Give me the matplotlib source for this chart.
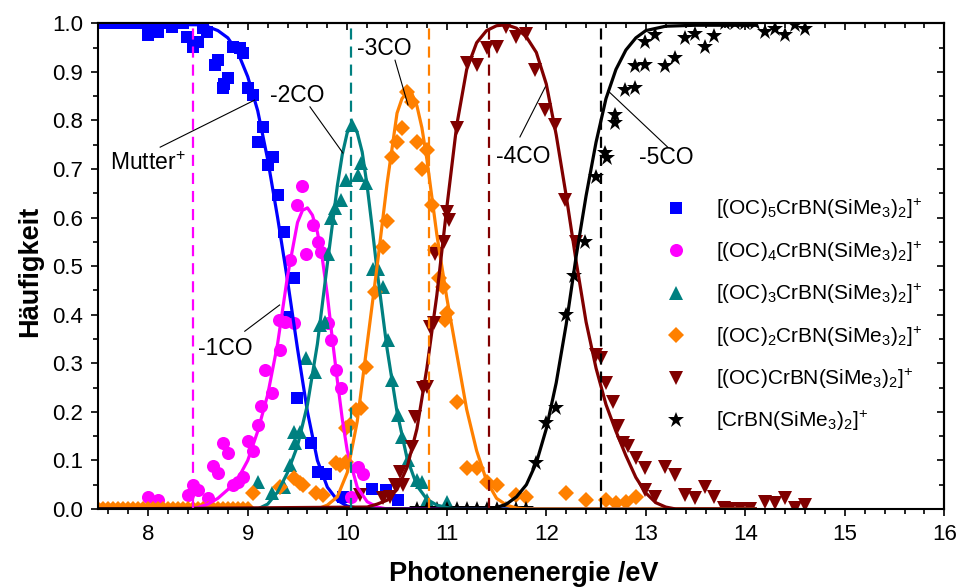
import matplotlib
matplotlib.use("Agg")
import matplotlib.pyplot as plt
from matplotlib.lines import Line2D
from matplotlib.ticker import MultipleLocator

plt.rcParams['font.family'] = ['Liberation Sans', 'DejaVu Sans']
plt.rcParams['mathtext.fontset'] = 'custom'
plt.rcParams['mathtext.rm'] = 'Liberation Sans'
plt.rcParams['mathtext.it'] = 'Liberation Sans:italic'
plt.rcParams['mathtext.bf'] = 'Liberation Sans:bold'
plt.rcParams['lines.scale_dashes'] = False

# ---- measured abundances -------------------------------------------------
p0_x = [7.5, 7.55, 7.6, 7.65, 7.7, 7.75, 7.8, 7.85, 7.9, 7.95, 8.0, 8.05, 8.1, 8.15,
        8.2, 8.24, 8.3, 8.35, 8.39, 8.45, 8.5, 8.55, 8.59, 8.67, 8.7, 8.75, 8.76,
        8.8, 8.85, 8.92, 8.95, 9.0, 9.055, 9.105, 9.155, 9.205, 9.255, 9.305,
        9.36, 9.39, 9.46, 9.49, 9.64, 9.71, 9.79, 9.96, 10.25, 10.39, 10.51]
p0_y = [1.0, 1.0, 1.0, 1.0, 1.0, 1.0, 1.0, 1.0, 1.0, 1.0, 0.976, 1.0, 0.983, 1.0,
        1.0, 0.993, 1.0, 1.0, 0.972, 0.952, 0.962, 0.99, 0.983, 0.914, 0.924, 0.866, 0.876,
        0.887, 0.952, 0.949, 0.938, 0.866, 0.852, 0.756, 0.787, 0.708, 0.725, 0.646,
        0.571, 0.396, 0.475, 0.228, 0.135, 0.077, 0.073, 0.025, 0.041, 0.039, 0.018]

p1_x = [8.0, 8.1, 8.4, 8.45, 8.5, 8.6, 8.65, 8.7, 8.75, 8.8, 8.85, 8.9, 8.95, 9.0,
        9.05, 9.1, 9.13, 9.17, 9.24, 9.32, 9.31, 9.37, 9.46, 9.42, 9.49, 9.55, 9.59,
        9.66, 9.71, 9.74, 9.81, 9.84, 9.89, 9.94, 10.04, 10.11, 10.16]
p1_y = [0.025, 0.018, 0.029, 0.049, 0.039, 0.022, 0.089, 0.075, 0.135, 0.116, 0.05,
        0.055, 0.066, 0.14, 0.12, 0.173, 0.212, 0.286, 0.238, 0.327, 0.389, 0.386,
        0.382, 0.513, 0.626, 0.665, 0.526, 0.585, 0.55, 0.53, 0.382, 0.348, 0.286,
        0.249, 0.025, 0.087, 0.073]

p2_x = [9.1, 9.24, 9.36, 9.42, 9.47, 9.46, 9.52, 9.59, 9.68, 9.73, 9.78, 9.81, 9.84,
        9.88, 9.94, 9.99, 10.05, 10.11, 10.14, 10.19, 10.26, 10.31, 10.36, 10.41,
        10.45, 10.51, 10.55, 10.61, 10.7, 10.75, 10.8, 11.0]
p2_y = [0.055, 0.032, 0.046, 0.09, 0.135, 0.159, 0.159, 0.31, 0.283, 0.379, 0.386,
        0.526, 0.6, 0.619, 0.636, 0.677, 0.79, 0.688, 0.712, 0.671, 0.495, 0.495,
        0.458, 0.348, 0.266, 0.194, 0.149, 0.101, 0.06, 0.056, 0.018, 0.015]

p3_x = [7.5, 7.55, 7.6, 7.65, 7.7, 7.75, 7.8, 7.85, 7.9, 7.95, 8.0, 8.05, 8.1, 8.15,
        8.2, 8.25, 8.3, 8.35, 8.4, 8.45, 8.5, 8.55, 8.6, 8.65, 8.7, 8.75, 8.8, 8.85,
        8.9, 8.95, 9.0,
        9.055, 9.32, 9.46, 9.52, 9.56, 9.69, 9.76, 9.89, 9.93, 9.99, 9.99, 10.03,
        10.09, 10.14, 10.19, 10.28, 10.36, 10.40, 10.45, 10.50, 10.55, 10.60, 10.65,
        10.70, 10.75, 10.80, 10.85, 10.88, 10.92, 10.96, 10.98, 11.0, 11.1, 11.2,
        11.3, 11.4, 11.5, 11.7, 11.8, 12.2, 12.4, 12.6, 12.7, 12.8, 12.9]
p3_y = [0.0] * 31 + [
        0.032, 0.046, 0.063, 0.053, 0.049, 0.032, 0.029, 0.094, 0.09, 0.097, 0.166,
        0.173, 0.204, 0.207, 0.293, 0.447, 0.54, 0.592, 0.725, 0.756, 0.784, 0.859,
        0.838, 0.756, 0.701, 0.739, 0.626, 0.533, 0.475, 0.458, 0.389, 0.403, 0.221,
        0.084, 0.084, 0.056, 0.049, 0.029, 0.025, 0.032, 0.018, 0.018, 0.012, 0.015,
        0.025]

p4_x = [10.13, 10.36, 10.43, 10.48, 10.53, 10.56, 10.65, 10.68, 10.76, 10.80, 10.83,
        10.87, 10.88, 10.97, 11.0, 11.02, 11.1, 11.2, 11.3, 11.4, 11.5, 11.6, 11.7,
        11.8, 11.89, 11.99, 12.09, 12.19, 12.3, 12.5, 12.55, 12.6, 12.67, 12.72,
        12.77, 12.82, 12.9, 12.99, 12.99, 13.09, 13.19, 13.29, 13.39, 13.49, 13.59,
        13.69, 13.79, 13.85, 13.95, 14.05, 14.2, 14.3, 14.4, 14.5, 14.6]
p4_y = [0.029, 0.022, 0.025, 0.049, 0.077, 0.049, 0.128, 0.19, 0.249, 0.252, 0.375,
        0.382, 0.526, 0.55, 0.612, 0.595, 0.784, 0.918, 0.914, 0.95, 0.952, 0.993,
        0.972, 0.979, 0.904, 0.821, 0.79, 0.636, 0.55, 0.317, 0.31, 0.26, 0.22,
        0.17, 0.135, 0.13, 0.105, 0.084, 0.04, 0.025, 0.087, 0.07, 0.029, 0.022,
        0.046, 0.025, 0.002, 0.0, 0.0, 0.0, 0.015, 0.012, 0.022, 0.002, 0.008]

p5_x = [10.7, 10.8, 10.9, 11.0, 11.1, 11.2, 11.3, 11.4, 11.5, 11.6, 11.7, 11.8,
        11.9, 12.0, 12.1, 12.2, 12.28, 12.39, 12.5, 12.59, 12.61, 12.69, 12.69,
        12.79, 12.89, 12.89, 12.99, 12.99, 13.09, 13.19, 13.29, 13.39, 13.49, 13.59,
        13.69, 13.8, 13.9, 14.0, 14.1, 14.2, 14.3, 14.4, 14.5, 14.6]
p5_y = [0.0, 0.0, 0.0, 0.0, 0.0, 0.0, 0.0, 0.0, 0.0, 0.0, 0.0, 0.0,
        0.095, 0.178, 0.208, 0.40, 0.48, 0.55, 0.684, 0.732, 0.722, 0.811, 0.794,
        0.862, 0.866, 0.912, 0.915, 0.962, 0.976, 0.912, 0.928, 0.969, 0.978, 0.952,
        0.974, 1.0, 1.0, 1.0, 1.0, 0.983, 0.988, 0.976, 0.997, 0.988]

# ---- fitted abundance curves ---------------------------------------------
f0_x = [7.5, 8.5, 8.6, 8.7, 8.8, 8.9, 9.0, 9.1, 9.2, 9.3, 9.4, 9.5, 9.6, 9.7, 9.8,
        9.9, 10.0, 10.1, 10.2, 14.1]
f0_y = [0.998, 0.997, 0.993, 0.985, 0.97, 0.94, 0.89, 0.82, 0.72, 0.60, 0.47, 0.33,
        0.20, 0.10, 0.045, 0.018, 0.006, 0.002, 0.0, 0.0]

f1_x = [7.5, 8.4, 8.5, 8.6, 8.7, 8.8, 8.9, 9.0, 9.1, 9.2, 9.3, 9.4, 9.5, 9.55, 9.6,
        9.65, 9.7, 9.75, 9.8, 9.85, 9.9, 9.95, 10.0, 10.1, 10.2, 10.3, 10.4, 14.1]
f1_y = [0.0, 0.0, 0.003, 0.01, 0.022, 0.04, 0.062, 0.10, 0.16, 0.235, 0.34, 0.48,
        0.59, 0.615, 0.62, 0.605, 0.57, 0.515, 0.44, 0.35, 0.265, 0.185, 0.12,
        0.045, 0.015, 0.004, 0.0, 0.0]

f2_x = [7.5, 9.1, 9.2, 9.3, 9.4, 9.5, 9.6, 9.7, 9.8, 9.9, 9.95, 10.0, 10.05, 10.1,
        10.15, 10.2, 10.25, 10.3, 10.35, 10.4, 10.5, 10.6, 10.7, 10.8, 10.9, 11.0,
        11.1, 14.1]
f2_y = [0.0, 0.0, 0.01, 0.035, 0.075, 0.13, 0.215, 0.34, 0.505, 0.665, 0.73, 0.775,
        0.79, 0.775, 0.735, 0.665, 0.58, 0.49, 0.41, 0.33, 0.20, 0.105, 0.048,
        0.02, 0.008, 0.003, 0.0, 0.0]

f3_x = [7.5, 9.7, 9.8, 9.9, 10.0, 10.1, 10.2, 10.3, 10.4, 10.5, 10.55, 10.6, 10.65,
        10.7, 10.75, 10.8, 10.9, 11.0, 11.1, 11.2, 11.3, 11.4, 11.5, 11.6, 11.7,
        11.8, 14.1]
f3_y = [0.0, 0.0, 0.008, 0.025, 0.075, 0.18, 0.34, 0.50, 0.67, 0.815, 0.845,
        0.857, 0.855, 0.83, 0.785, 0.72, 0.565, 0.435, 0.32, 0.205, 0.12, 0.058,
        0.022, 0.008, 0.002, 0.0, 0.0]

f4_x = [7.5, 10.2, 10.3, 10.4, 10.5, 10.6, 10.7, 10.8, 10.9, 11.0, 11.1, 11.2,
        11.3, 11.4, 11.5, 11.6, 11.7, 11.8, 11.9, 12.0, 12.1, 12.2, 12.3, 12.4,
        12.5, 12.6, 12.7, 12.8, 12.9, 13.0, 13.1, 13.2, 13.3, 14.1]
f4_y = [0.0, 0.004, 0.01, 0.018, 0.04, 0.085, 0.165, 0.29, 0.44, 0.62, 0.79, 0.905,
        0.96, 0.985, 0.995, 0.997, 0.99, 0.972, 0.94, 0.875, 0.77, 0.645, 0.51,
        0.385, 0.29, 0.215, 0.16, 0.11, 0.065, 0.033, 0.013, 0.004, 0.0, 0.0]

f5_x = [7.5, 11.4, 11.5, 11.6, 11.7, 11.8, 11.9, 12.0, 12.1, 12.2, 12.3, 12.4,
        12.5, 12.6, 12.7, 12.8, 12.9, 13.0, 13.2, 13.5, 14.1]
f5_y = [0.0, 0.0, 0.003, 0.01, 0.025, 0.05, 0.095, 0.165, 0.26, 0.38, 0.52, 0.645,
        0.755, 0.845, 0.905, 0.945, 0.97, 0.985, 0.994, 0.996, 0.996]

# appearance energies of the successive CO losses
onset_x = [8.45, 10.04, 10.82, 11.42, 12.55]

labels = [
    r'[(OC)$_{\mathregular{5}}$CrBN(SiMe$_{\mathregular{3}}$)$_{\mathregular{2}}$]$^{\mathregular{+}}$',
    r'[(OC)$_{\mathregular{4}}$CrBN(SiMe$_{\mathregular{3}}$)$_{\mathregular{2}}$]$^{\mathregular{+}}$',
    r'[(OC)$_{\mathregular{3}}$CrBN(SiMe$_{\mathregular{3}}$)$_{\mathregular{2}}$]$^{\mathregular{+}}$',
    r'[(OC)$_{\mathregular{2}}$CrBN(SiMe$_{\mathregular{3}}$)$_{\mathregular{2}}$]$^{\mathregular{+}}$',
    r'[(OC)CrBN(SiMe$_{\mathregular{3}}$)$_{\mathregular{2}}$]$^{\mathregular{+}}$',
    r'[CrBN(SiMe$_{\mathregular{3}}$)$_{\mathregular{2}}$]$^{\mathregular{+}}$',
]

colors = ['#0000FF', '#FF00FF', '#008080', '#FF8000', '#800000', '#000000']
markers = ['s', 'o', '^', 'D', 'v', '*']
msizes = [8.6, 9.4, 10.0, 8.6, 10.0, 12.0]

points = [(p0_x, p0_y), (p1_x, p1_y), (p2_x, p2_y), (p3_x, p3_y), (p4_x, p4_y), (p5_x, p5_y)]
fits = [(f0_x, f0_y), (f1_x, f1_y), (f2_x, f2_y), (f3_x, f3_y), (f4_x, f4_y), (f5_x, f5_y)]

fig = plt.figure(figsize=(9.59, 5.87), dpi=100)
ax = fig.add_axes([0.1027, 0.1329, 0.882, 0.8274])

for (px, py), c, m, ms in zip(points, colors, markers, msizes):
    ax.plot(px, py, linestyle='none', marker=m, markersize=ms, color=c,
            markeredgewidth=0, zorder=3)

for (fx, fy), c in zip(fits, colors):
    ax.plot(fx, fy, color=c, lw=2.3, zorder=4, solid_joinstyle='round')

onset_colors = ['#FF00FF', '#008080', '#FF8000', '#800000', '#000000']
for xv, c in zip(onset_x, onset_colors):
    ax.plot([xv, xv], [0.0, 1.0], color=c, lw=1.6, dashes=(8.0, 5.0), zorder=5)

# annotations with leader lines
notes = [
    ('Mutter$^{\\mathregular{+}}$', (8.0, 0.712), (8.12, 0.745), (9.07, 0.842)),
    ('-2CO', (9.495, 0.852), (9.625, 0.828), (9.956, 0.733)),
    ('-3CO', (10.37, 0.949), (10.48, 0.924), (10.61, 0.832)),
    ('-4CO', (11.766, 0.725), (11.735, 0.766), (11.99, 0.869)),
    ('-5CO', (13.21, 0.723), (13.22, 0.745), (12.62, 0.861)),
    ('-1CO', (8.77, 0.331), (8.97, 0.366), (9.32, 0.42)),
]
for txt, tpos, l0, l1 in notes:
    ax.text(tpos[0], tpos[1], txt, fontsize=16.5, ha='center', va='center', zorder=6)
    ax.plot([l0[0], l1[0]], [l0[1], l1[1]], color='black', lw=0.8, zorder=6)

ax.set_xlim(7.5, 16)
ax.set_ylim(0.0, 1.0)
ax.xaxis.set_major_locator(MultipleLocator(1))
ax.xaxis.set_minor_locator(MultipleLocator(0.2))
ax.yaxis.set_major_locator(MultipleLocator(0.1))
ax.yaxis.set_minor_locator(MultipleLocator(0.05))
ax.yaxis.set_major_formatter(plt.FuncFormatter(lambda v, p: f'{v:.1f}'))

for s in ax.spines.values():
    s.set_linewidth(1.5)
    s.set_zorder(10)
ax.tick_params(axis='both', which='both', direction='out', width=1.2,
               labelsize=16, pad=6)
ax.tick_params(which='major', length=5)
ax.tick_params(which='minor', length=3.5)
ax.tick_params(axis='both', which='both', top=False, right=False)
# mirrored inward ticks on the top and right edges
sec_x = ax.secondary_xaxis('top')
sec_x.xaxis.set_major_locator(MultipleLocator(1))
sec_x.xaxis.set_minor_locator(MultipleLocator(0.2))
sec_x.tick_params(which='both', direction='in', width=1.2, labeltop=False)
sec_x.tick_params(which='major', length=5)
sec_x.tick_params(which='minor', length=3.5)
sec_x.spines['top'].set_linewidth(1.5)
sec_y = ax.secondary_yaxis('right')
sec_y.yaxis.set_major_locator(MultipleLocator(0.1))
sec_y.yaxis.set_minor_locator(MultipleLocator(0.05))
sec_y.tick_params(which='both', direction='in', width=1.2, labelright=False)
sec_y.tick_params(which='major', length=5)
sec_y.tick_params(which='minor', length=3.5)
sec_y.spines['right'].set_linewidth(1.5)

fig.text(0.5459, 0.022, 'Photonenenergie /eV', fontsize=19.5, fontweight='bold',
         ha='center', va='center')
fig.text(0.031, 0.537, 'Häufigkeit', fontsize=19.5, fontweight='bold',
         ha='center', va='center', rotation=90)

handles = [Line2D([], [], linestyle='none', marker=m, markersize=ms, color=c,
                  markeredgewidth=0) for c, m, ms in zip(colors, markers, msizes)]
ax.legend(handles, labels, loc='upper left', bbox_to_anchor=(0.694, 0.664),
          bbox_transform=fig.transFigure, frameon=False, fontsize=15,
          handlelength=1.0, handletextpad=1.42, borderpad=0, borderaxespad=0,
          labelspacing=0.88)

fig.savefig('out.png', dpi=100)
